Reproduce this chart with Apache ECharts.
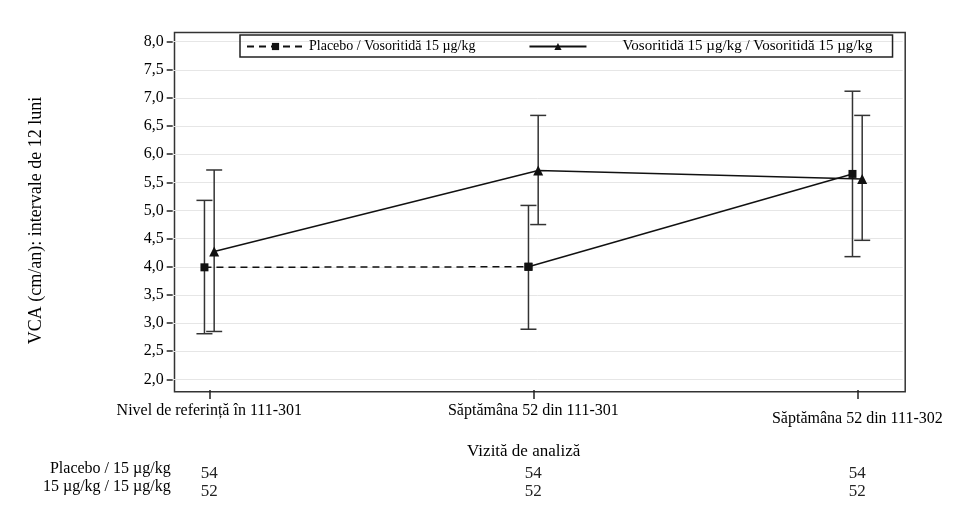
<!DOCTYPE html>
<html>
<head>
<meta charset="utf-8">
<title>VCA</title>
<script src="https://cdn.jsdelivr.net/npm/echarts@6/dist/echarts.min.js"></script>
<style>
  html, body { margin: 0; padding: 0; background: #fff; }
  #chart { width: 959px; height: 515px; }
</style>
</head>
<body>
<div id="chart"></div>
<script>
// vizite de analiza
var categories = ['Nivel de referință în 111-301', 'Săptămâna 52 din 111-301', 'Săptămâna 52 din 111-302'];
var seriesNames = ['Placebo / Vosoritidă 15 µg/kg', 'Vosoritidă 15 µg/kg / Vosoritidă 15 µg/kg'];
// medii si intervale de incredere
var placeboMean = [3.99, 4.00, 5.65];
var placeboLow = [2.81, 2.89, 4.18];
var placeboHigh = [5.18, 5.09, 7.12];
var vosoMean = [4.27, 5.71, 5.56];
var vosoLow = [2.85, 4.75, 4.47];
var vosoHigh = [5.72, 6.69, 6.69];
// numar de pacienti
var rowLabels = ['Placebo / 15 µg/kg', '15 µg/kg / 15 µg/kg'];
var placeboN = [54, 54, 54];
var vosoN = [52, 52, 52];
var yTicks = [2, 8, 0.5];

var FONT = '"Liberation Serif", "Times New Roman", serif';
var dodge = 0.015;
var catIdx = categories.map(function (c, i) { return i; });

function points(mean, shift) {
  return mean.map(function (v, i) { return [i + shift, v]; });
}
function bars(low, high, shift) {
  return low.map(function (v, i) { return [i + shift, v, high[i]]; });
}
function errorBar(params, api) {
  var lo = api.coord([api.value(0), api.value(1)]);
  var hi = api.coord([api.value(0), api.value(2)]);
  var w = 8;
  var style = { stroke: '#333', lineWidth: 1.5 };
  return {
    type: 'group',
    children: [
      { type: 'line', shape: { x1: lo[0], y1: lo[1], x2: hi[0], y2: hi[1] }, style: style },
      { type: 'line', shape: { x1: lo[0] - w, y1: lo[1], x2: lo[0] + w, y2: lo[1] }, style: style },
      { type: 'line', shape: { x1: hi[0] - w, y1: hi[1], x2: hi[0] + w, y2: hi[1] }, style: style }
    ]
  };
}
function nAxis(name, values, offset) {
  return {
    type: 'value', min: -0.113, max: 2.14, position: 'bottom', offset: offset,
    name: name, nameLocation: 'start', nameGap: 2,
    nameTextStyle: { fontFamily: FONT, fontSize: 16, color: '#000', verticalAlign: 'middle' },
    axisLine: { show: false, onZero: false }, axisTick: { show: false }, splitLine: { show: false },
    axisLabel: {
      customValues: catIdx, margin: 5, verticalAlign: 'middle',
      fontFamily: FONT, fontSize: 17, color: '#222',
      formatter: function (v) { return String(values[Math.round(v)]); }
    }
  };
}

var placeboPts = points(placeboMean, -dodge);
var chart = echarts.init(document.getElementById('chart'));
var option = {
  animation: false,
  backgroundColor: '#fff',
  grid: { left: 172.7, right: 56.3, top: 41.7, bottom: 135.7 },
  legend: {
    left: 240, top: 35,
    padding: [4, 20, 3, 6],
    itemGap: 53, itemWidth: 57, itemHeight: 9,
    borderColor: '#222', borderWidth: 1.5,
    textStyle: { fontFamily: FONT, fontSize: 14, color: '#000' },
    data: [
      { name: seriesNames[0] },
      { name: seriesNames[1], textStyle: { fontSize: 15, padding: [0, 0, 0, 31] } }
    ]
  },
  xAxis: [{
    type: 'value', min: -0.113, max: 2.14, offset: 10.7,
    name: 'Vizită de analiză', nameLocation: 'middle', nameGap: 53,
    nameTextStyle: { fontFamily: FONT, fontSize: 17, color: '#000', padding: [0, 28, 0, 0] },
    axisLine: { show: false, onZero: false },
    axisTick: { customValues: catIdx, length: 9, lineStyle: { color: '#222', width: 1.5 } },
    splitLine: { show: false },
    axisLabel: {
      customValues: catIdx, margin: 13,
      fontFamily: FONT, fontSize: 16, color: '#000',
      formatter: function (v) {
        var i = Math.round(v);
        return i === 2 ? '{low|' + categories[i] + '}' : categories[i];
      },
      rich: { low: { fontFamily: FONT, fontSize: 16, color: '#000', padding: [8, 0, 0, 0] } }
    }
  },
  nAxis(rowLabels[0], placeboN, 89),
  nAxis(rowLabels[1], vosoN, 107)],
  yAxis: {
    type: 'value', min: yTicks[0], max: yTicks[1], interval: yTicks[2],
    name: 'VCA (cm/an): intervale de 12 luni', nameLocation: 'middle', nameGap: 127,
    nameTextStyle: { fontFamily: FONT, fontSize: 18, color: '#000', padding: [0, 20, 0, 0] },
    axisLine: { show: false, onZero: false },
    axisTick: { show: true, length: 6, lineStyle: { color: '#222', width: 1.5 } },
    splitLine: { lineStyle: { color: '#e6e6e6', width: 1 } },
    axisLabel: {
      margin: 9, fontFamily: FONT, fontSize: 16, color: '#000',
      formatter: function (v) { return v.toFixed(1).replace('.', ','); }
    }
  },
  graphic: [{
    type: 'rect', left: 172, top: 30,
    shape: { width: 730.7, height: 359.3 },
    style: { fill: null, stroke: '#333', lineWidth: 1.5 },
    silent: true
  }],
  series: [{
    name: seriesNames[0], type: 'line',
    data: placeboPts.slice(0, 2),
    symbol: 'rect', symbolSize: 8,
    itemStyle: { color: '#111' },
    lineStyle: { color: '#111', width: 1.5, type: [7, 5] },
    z: 3
  }, {
    // dupa saptamana 52 placebo trece pe vosoritida: segment continuu
    name: 'placeboSwitch', type: 'line',
    data: placeboPts.slice(1),
    symbol: 'rect', symbolSize: 8,
    itemStyle: { color: '#111' },
    lineStyle: { color: '#111', width: 1.5 },
    z: 3
  }, {
    name: seriesNames[1], type: 'line',
    data: points(vosoMean, dodge),
    symbol: 'triangle', symbolSize: 10,
    itemStyle: { color: '#111' },
    lineStyle: { color: '#111', width: 1.5 },
    z: 3
  }, {
    name: 'placeboCI', type: 'custom',
    data: bars(placeboLow, placeboHigh, -dodge),
    renderItem: errorBar, z: 2
  }, {
    name: 'vosoCI', type: 'custom',
    data: bars(vosoLow, vosoHigh, dodge),
    renderItem: errorBar, z: 2
  }]
};
chart.setOption(option);
</script>
</body>
</html>
